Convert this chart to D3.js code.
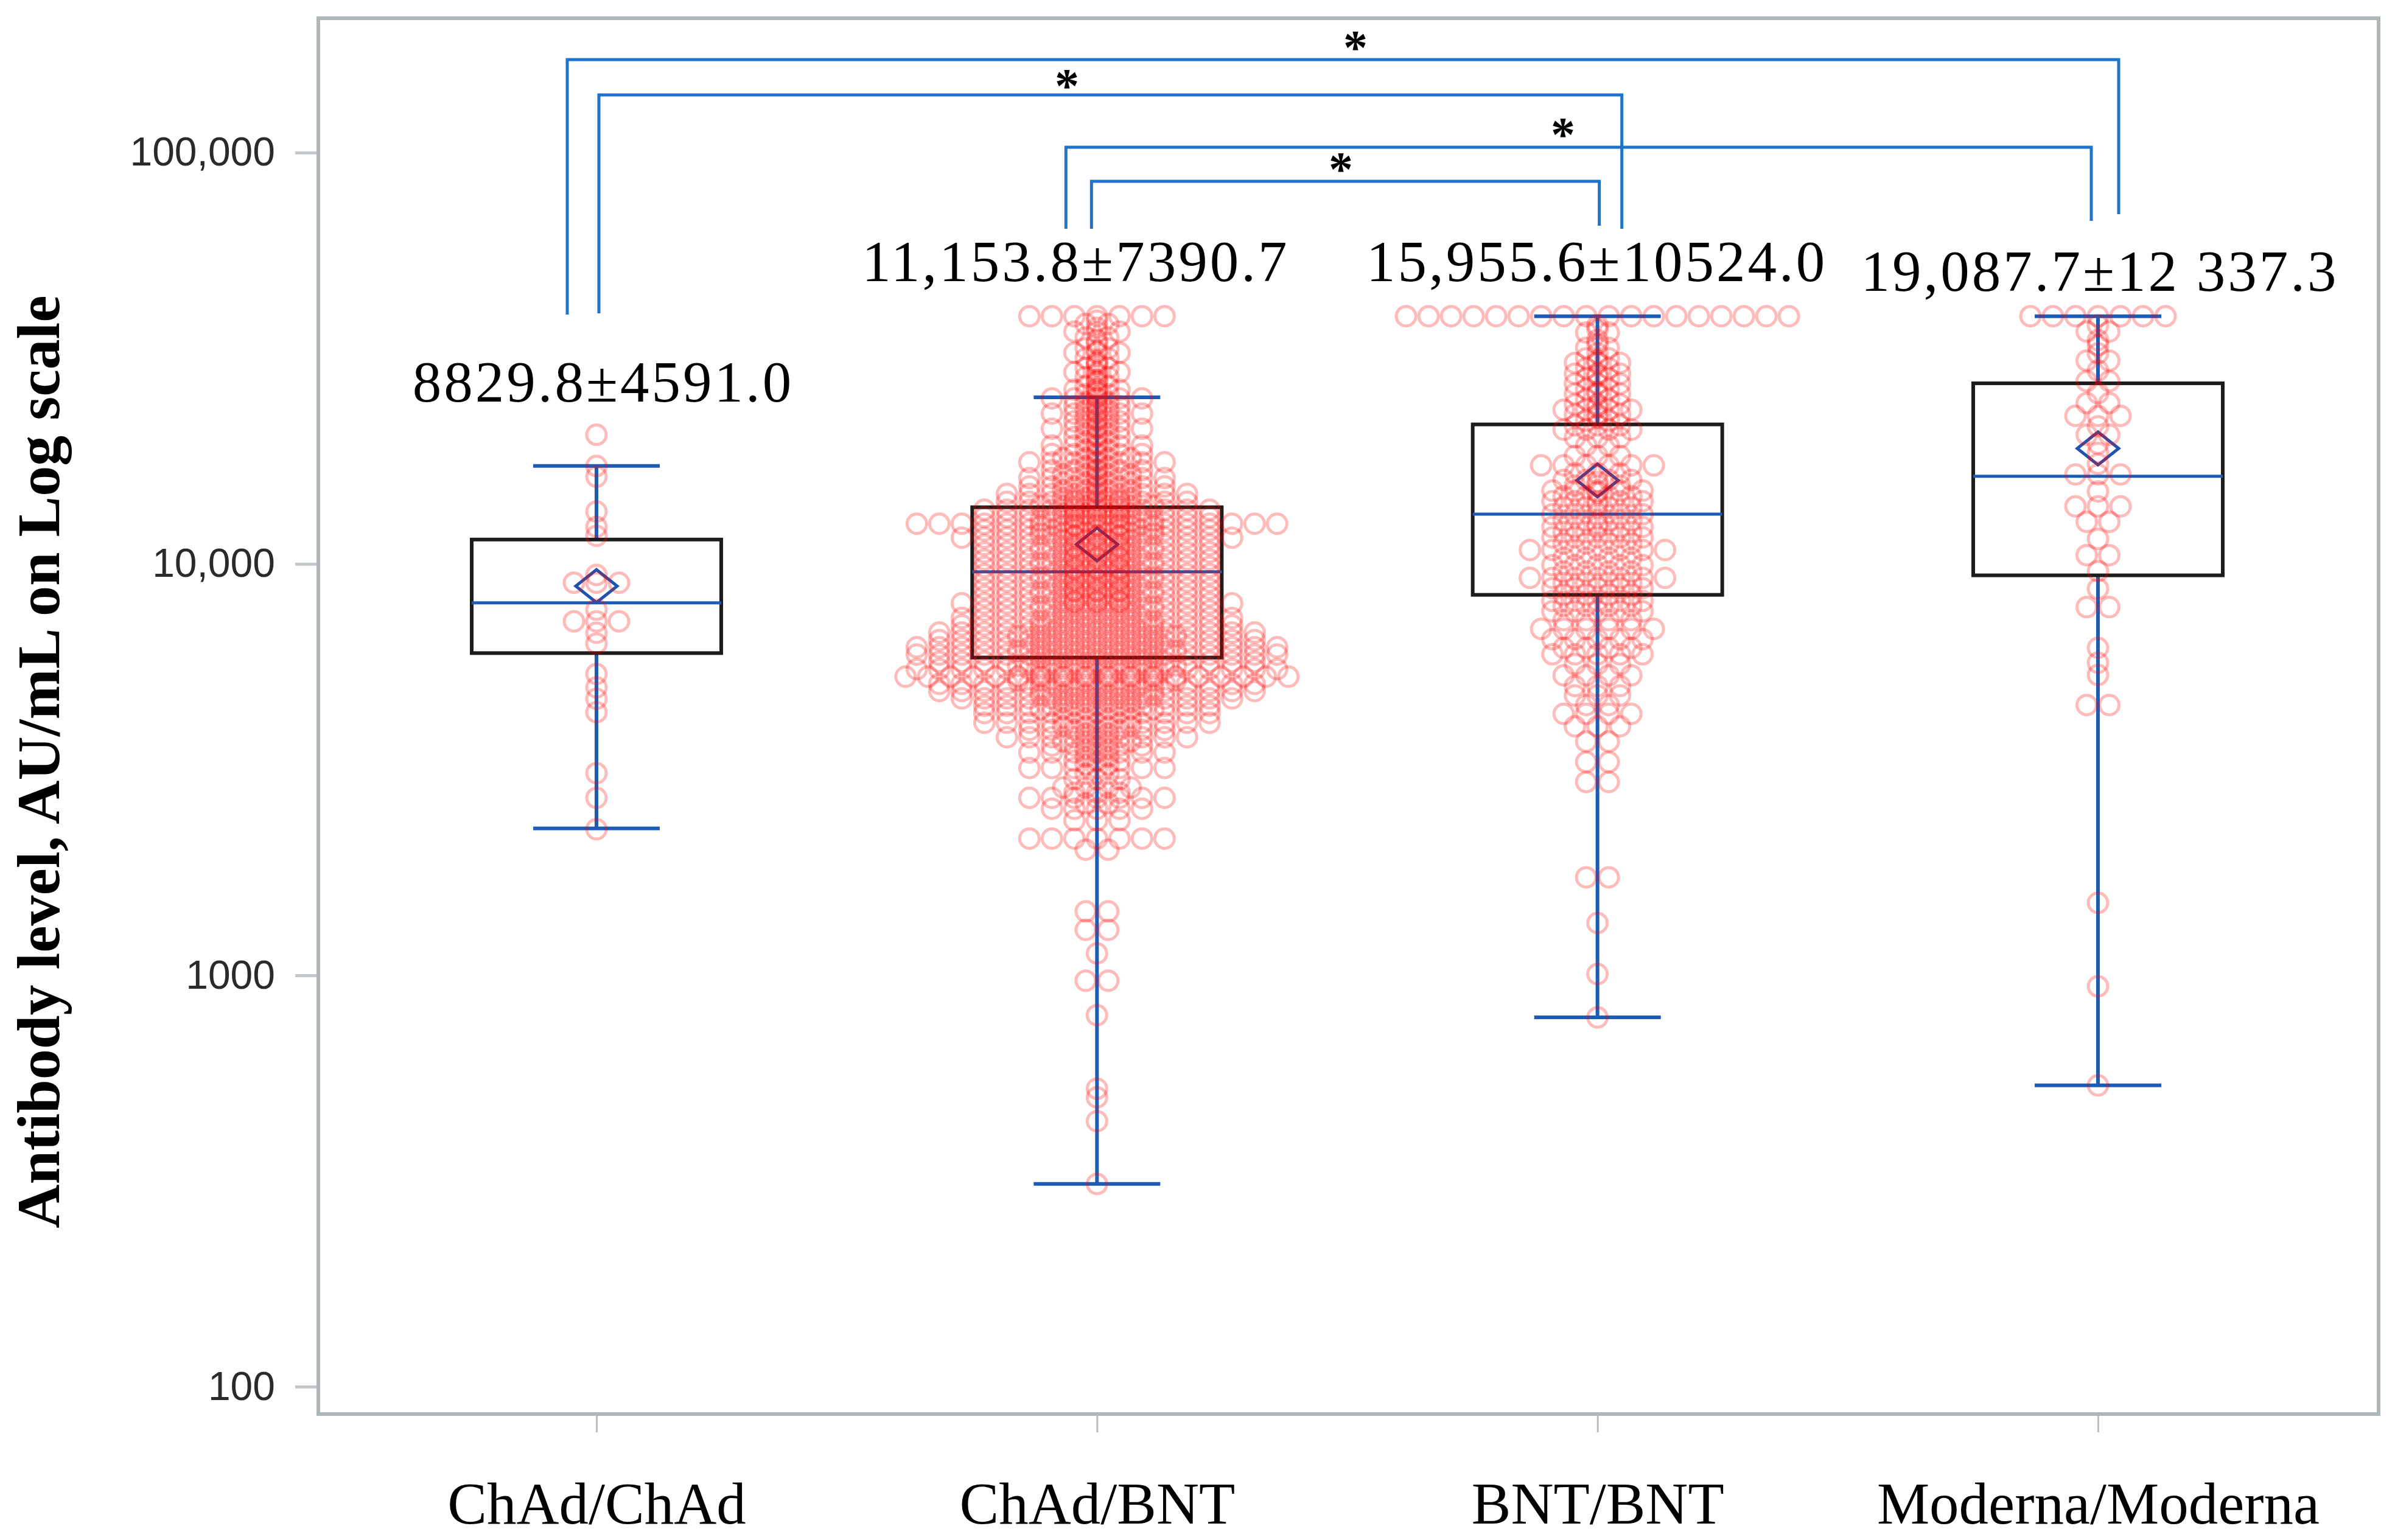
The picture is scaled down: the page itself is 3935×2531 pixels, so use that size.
<!DOCTYPE html>
<html><head><meta charset="utf-8">
<script src="https://cdn.jsdelivr.net/npm/d3@7"></script>
<style>body{margin:0;background:#fff}</style>
</head><body>
<svg id="chart" width="3935" height="2531" xmlns="http://www.w3.org/2000/svg"></svg>
<script>
// ---------- data ----------
const categories = ["ChAd/ChAd", "ChAd/BNT", "BNT/BNT", "Moderna/Moderna"];
const meanLabels = ["8829.8\u00B14591.0", "11,153.8\u00B17390.7", "15,955.6\u00B110524.0", "19,087.7\u00B112 337.3"];
const means = [8829.8, 11153.8, 15955.6, 19087.7];
const q1 = [6070, 5920, 8410, 9380];
const medians = [8040, 9570, 13210, 16330];
const q3 = [11460, 13730, 21830, 27480];
const whiskerLow = [2275, 311, 790, 540];
const whiskerHigh = [17300, 25400, 40000, 40000];
const yTicks = [100, 1000, 10000, 100000];
const yTickLabels = ["100", "1000", "10,000", "100,000"];
const yTitle = "Antibody level, AU/mL on Log scale";

// individual observations, grouped in rows of equal value (value, number of points)
const chadValues = [20600, 17300, 16300, 13400, 12300, 11700, 9400, 9000, 7740, 7250, 6800, 6400, 5400, 5010, 4700, 4360, 3100, 2700, 2265];
const chadCounts = [1, 1, 1, 1, 1, 1, 1, 3, 1, 3, 1, 1, 1, 1, 1, 1, 1, 1, 1];

const chadBntValues = [40000, 38300, 36700, 35500, 34300, 33400, 32600, 31600, 30700, 29950, 29250, 28450, 27700, 27100, 26500, 25850, 25250, 24700, 24150, 23650,
  23200, 22700, 22200, 21750, 21300, 20800, 20350, 19870, 19400, 18950, 18500, 18080, 17660, 17280, 16900, 16530, 16170, 15790, 15420, 15110,
  14800, 14470, 14150, 13840, 13540, 13270, 13000, 12760, 12520, 12290, 12060, 11820, 11580, 11350, 11120, 10890, 10670, 10450, 10240, 10030,
  9830, 9630, 9440, 9250, 9060, 8880, 8700, 8520, 8350, 8180, 8020, 7860, 7700, 7540, 7390, 7240, 7090, 6950, 6810, 6670,
  6530, 6400, 6270, 6140, 6020, 5900, 5780, 5660, 5550, 5430, 5320, 5210, 5110, 5010, 4910, 4810, 4710, 4610, 4520, 4430,
  4340, 4220, 4110, 4030, 3950, 3870, 3790, 3700, 3620, 3550, 3480, 3400, 3320, 3250, 3190, 3090, 3000, 2860, 2780, 2700,
  2620, 2540, 2380, 2150, 2020, 1430, 1290, 1130, 970, 800, 530, 505, 442, 311,
  39000, 37500, 34900, 33000, 31100, 30300, 28800, 28000, 26800, 26100, 25500, 24400, 23400, 22450, 21500, 20550, 19600, 18700, 17850, 17000,
  16350, 15600, 14950, 14300, 13700, 13100, 12400, 11700, 11000, 10350, 9730, 9150, 8600, 8100];
const chadBntCounts = [7, 2, 3, 2, 1, 2, 3, 2, 1, 2, 3, 2, 1, 2, 3, 2, 5, 2, 3, 2,
  5, 2, 3, 2, 5, 2, 3, 2, 5, 2, 5, 4, 7, 2, 5, 4, 7, 4, 7, 4,
  9, 4, 9, 6, 11, 4, 11, 6, 17, 6, 11, 6, 13, 4, 11, 6, 11, 4, 11, 6,
  11, 4, 11, 6, 11, 4, 11, 6, 11, 4, 13, 6, 11, 4, 13, 6, 13, 6, 15, 8,
  15, 6, 17, 8, 17, 6, 15, 8, 17, 6, 18, 8, 15, 6, 15, 6, 13, 4, 11, 6,
  11, 4, 11, 4, 7, 2, 9, 4, 5, 2, 7, 2, 3, 2, 7, 2, 3, 4, 3, 7,
  2, 5, 3, 7, 2, 2, 2, 1, 2, 1, 1, 1, 1, 1,
  1, 1, 1, 1, 1, 1, 1, 1, 1, 1, 1, 1, 1, 1, 1, 1, 1, 1, 1, 1,
  1, 1, 1, 3, 3, 3, 3, 3, 3, 3, 3, 3, 3, 3];

const bntValues = [40000, 38000, 36500, 35000, 33500, 32500, 31600, 30800, 29900, 29000, 28200, 27400, 26600, 25900, 25100, 24400, 23700, 23100, 22300, 21700,
  21200, 20300, 19400, 18300, 17360, 16600, 16000, 15500, 15070, 14600, 14200, 13700, 13200, 12750, 12300, 11950, 11600, 11200, 10810, 10350,
  9930, 9580, 9250, 8980, 8730, 8420, 8130, 7900, 7670, 7300, 6950, 6560, 6250, 6030, 5700, 5360, 5050, 4790, 4540, 4320,
  4030, 3700, 3300, 2950, 1730, 1340, 1007, 790,
  37200, 34200, 31200, 28600, 26200, 24000, 22700, 15800, 14900, 13950, 12500];
const bntCounts = [18, 1, 2, 1, 2, 1, 2, 3, 2, 3, 2, 3, 2, 3, 2, 3, 4, 3, 2, 3,
  4, 3, 2, 3, 6, 3, 4, 3, 5, 4, 5, 4, 5, 4, 5, 4, 5, 4, 7, 4,
  5, 4, 7, 4, 5, 4, 5, 4, 5, 4, 6, 5, 4, 5, 3, 4, 3, 3, 2, 4,
  3, 2, 2, 2, 2, 1, 1, 1,
  1, 1, 1, 1, 1, 1, 1, 1, 1, 1, 1];

const modernaValues = [40000, 38000, 36700, 35000, 34000, 32500, 31200, 29500, 27800, 26000, 24600, 22900, 21600, 20600, 19600, 18600, 17500, 16500, 15000, 13800,
  12650, 11500, 10500, 9600, 8700, 7850, 6250, 5750, 5370, 4540, 1500, 940, 540];
const modernaCounts = [7, 1, 2, 1, 1, 1, 2, 1, 2, 1, 2, 3, 1, 2, 1, 1, 1, 3, 1, 3,
  2, 1, 2, 1, 1, 2, 1, 1, 1, 2, 1, 1, 1];

// significance comparisons (category index pairs)
const comparisons = [[0, 3], [0, 2], [1, 3], [1, 2]];
const compLabels = ["*", "*", "*", "*"];

// ---------- layout ----------
const plot = {left: 523, right: 3908, top: 30, bottom: 2324};
const spacing = 37, radius = 16;
const boxHalf = 205, capHalf = 104;
const labelDx = [11, -35, -1, 3];
const labelY = [660, 462, 462, 478];
const bracketTop = [98, 156, 242, 298];
const bracketLeftDx = [-48, 4, -51, -9];
const bracketRightDx = [34, 40, -11, 3];
const bracketLeftBottom = [517, 515, 376, 376];
const bracketRightBottom = [352, 376, 363, 371];
const starX = [2227, 1753, 2568, 2203];
const starY = [67, 130, 210, 267];

const SERIF = "'Times New Roman', 'Liberation Serif', serif";
const SANS = "Arial, 'Liberation Sans', sans-serif";
const BLUE = "#1d5cb6";
const BRACKET = "#1f73cc";

const svg = d3.select("#chart");
svg.append("rect").attr("width", 3935).attr("height", 2531).attr("fill", "#fff");

const x = d3.scalePoint().domain(categories).range([980, 3447]);
const y = d3.scaleLog().domain([85.8, 212000]).range([plot.bottom, plot.top]);

// axes
const yAxis = svg.append("g").attr("transform", `translate(${plot.left},0)`)
  .call(d3.axisLeft(y).tickValues(yTicks).tickFormat((d, i) => yTickLabels[i]).tickSize(38).tickPadding(33));
yAxis.select(".domain").remove();
yAxis.selectAll(".tick line").attr("stroke", "#c2c7ca").attr("stroke-width", 5);
yAxis.selectAll(".tick text").attr("font-family", SANS).attr("font-size", 66).attr("fill", "#2a2a2a");

const xAxis = svg.append("g").attr("transform", `translate(0,${plot.bottom})`)
  .call(d3.axisBottom(x).tickSize(30).tickPadding(81));
xAxis.select(".domain").remove();
xAxis.selectAll(".tick line").attr("stroke", "#b9bec1").attr("stroke-width", 3);
xAxis.selectAll(".tick text").attr("font-family", SERIF).attr("font-size", 97).attr("fill", "#000");

// frame
svg.append("rect").attr("x", plot.left).attr("y", plot.top)
  .attr("width", plot.right - plot.left).attr("height", plot.bottom - plot.top)
  .attr("fill", "none").attr("stroke", "#afb6b9").attr("stroke-width", 6);

// y title
svg.append("text").attr("transform", "translate(97,1252) rotate(-90)")
  .attr("text-anchor", "middle").attr("font-family", SERIF).attr("font-weight", "bold")
  .attr("font-size", 100).attr("fill", "#000").text(yTitle);

// boxes
const stats = categories.map((c, i) => ({c, i, q1: q1[i], med: medians[i], q3: q3[i], lo: whiskerLow[i], hi: whiskerHigh[i], mean: means[i]}));
const gBox = svg.append("g");
stats.forEach(s => {
  const cx = x(s.c);
  gBox.append("line").attr("x1", cx).attr("x2", cx).attr("y1", y(s.q3)).attr("y2", y(s.hi)).attr("stroke", BLUE).attr("stroke-width", 6);
  gBox.append("line").attr("x1", cx).attr("x2", cx).attr("y1", y(s.q1)).attr("y2", y(s.lo)).attr("stroke", BLUE).attr("stroke-width", 6);
  gBox.append("line").attr("x1", cx - capHalf).attr("x2", cx + capHalf).attr("y1", y(s.hi)).attr("y2", y(s.hi)).attr("stroke", BLUE).attr("stroke-width", 6);
  gBox.append("line").attr("x1", cx - capHalf).attr("x2", cx + capHalf).attr("y1", y(s.lo)).attr("y2", y(s.lo)).attr("stroke", BLUE).attr("stroke-width", 6);
  gBox.append("rect").attr("x", cx - boxHalf).attr("width", 2 * boxHalf)
    .attr("y", y(s.q3)).attr("height", y(s.q1) - y(s.q3))
    .attr("fill", "none").attr("stroke", "#1c1c1c").attr("stroke-width", 6);
  gBox.append("line").attr("x1", cx - boxHalf).attr("x2", cx + boxHalf).attr("y1", y(s.med)).attr("y2", y(s.med)).attr("stroke", BLUE).attr("stroke-width", 5);
  const my = y(s.mean);
  gBox.append("path").attr("d", `M${cx - 34},${my} L${cx},${my - 27} L${cx + 34},${my} L${cx},${my + 27} Z`)
    .attr("fill", "none").attr("stroke", "#2053b0").attr("stroke-width", 5);
});

// points
const groups = [[chadValues, chadCounts], [chadBntValues, chadBntCounts], [bntValues, bntCounts], [modernaValues, modernaCounts]];
const pts = [];
groups.forEach(([vals, counts], gi) => {
  vals.forEach((v, r) => {
    const n = counts[r];
    for (let k = 0; k < n; k++) pts.push({c: categories[gi], v, off: (k - (n - 1) / 2) * spacing});
  });
});
svg.append("g").selectAll("circle").data(pts).join("circle")
  .attr("cx", d => x(d.c) + d.off).attr("cy", d => y(d.v)).attr("r", radius)
  .attr("fill", "none").attr("stroke", "#ff0000").attr("stroke-opacity", 0.27).attr("stroke-width", 5);

// brackets
const gBr = svg.append("g");
comparisons.forEach(([a, b], i) => {
  const xl = x(categories[a]) + bracketLeftDx[i];
  const xr = x(categories[b]) + bracketRightDx[i];
  gBr.append("path").attr("d", `M${xl},${bracketLeftBottom[i]} V${bracketTop[i]} H${xr} V${bracketRightBottom[i]}`)
    .attr("fill", "none").attr("stroke", BRACKET).attr("stroke-width", 5);
  gBr.append("text").attr("x", starX[i]).attr("y", starY[i] + 38).attr("text-anchor", "middle")
    .attr("font-family", SERIF).attr("font-weight", "bold").attr("font-size", 80).attr("fill", "#000").text(compLabels[i]);
});

// mean ± SD labels
svg.append("g").selectAll("text").data(meanLabels).join("text")
  .attr("x", (d, i) => x(categories[i]) + labelDx[i]).attr("y", (d, i) => labelY[i])
  .attr("text-anchor", "middle").attr("font-family", SERIF).attr("font-size", 95)
  .attr("letter-spacing", 4).attr("fill", "#000").text(d => d);
</script>
</body></html>
